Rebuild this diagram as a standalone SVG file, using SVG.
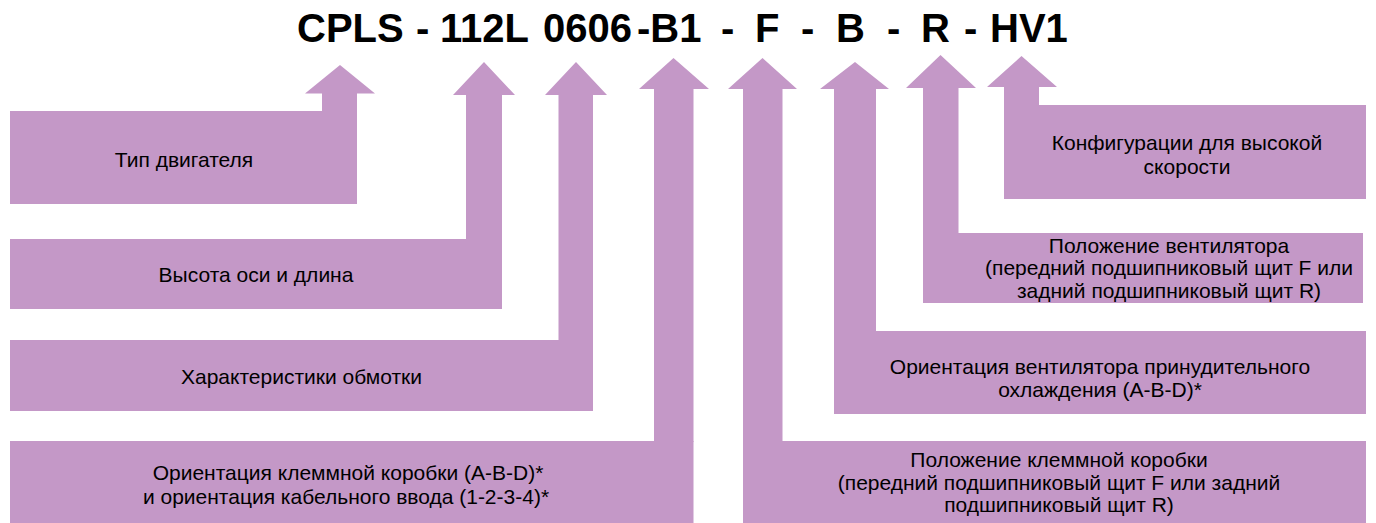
<svg xmlns="http://www.w3.org/2000/svg" width="1376" height="523" viewBox="0 0 1376 523">
<style>
.fill{fill:#C498C7;}
.title{font-family:"Liberation Sans",Arial,sans-serif;font-weight:bold;font-size:40px;fill:#000;}
.lbl{font-family:"Liberation Sans",Arial,sans-serif;font-size:21px;fill:#000;text-anchor:middle;}
</style>
<rect width="1376" height="523" fill="#fff"/>
<text class="title" y="42"><tspan x="297">CPLS</tspan><tspan x="416">-</tspan><tspan x="440">112L</tspan><tspan x="543">0606</tspan><tspan x="637">-B1</tspan><tspan x="721">-</tspan><tspan x="755">F</tspan><tspan x="801">-</tspan><tspan x="836">B</tspan><tspan x="887">-</tspan><tspan x="921">R</tspan><tspan x="964">-</tspan><tspan x="990">HV1</tspan></text>
<g id="connectors" class="fill">
<path d="M340,65 L375,93.5 L357,93.5 L357,112 L322,112 L322,93.5 L305,93.5 Z"/>
<path d="M484,62 L515,95 L502,95 L502,240 L466,240 L466,95 L453,95 Z"/>
<path d="M576,62 L607,95 L593,95 L593,341 L558.5,341 L558.5,95 L545,95 Z"/>
<path d="M673.5,58 L709,89 L693.5,89 L693.5,442 L654,442 L654,89 L639,89 Z"/>
<path d="M762.5,58 L797,89 L782.5,89 L782.5,442 L743,442 L743,89 L728,89 Z"/>
<path d="M855,62 L889,89 L876,89 L876,332 L834,332 L834,89 L820,89 Z"/>
<path d="M940.5,55 L976,88 L958.5,88 L958.5,234 L923,234 L923,88 L906,88 Z"/>
<path d="M1021.5,56 L1057,87 L1039,87 L1039,106 L1004,106 L1004,87 L987,87 Z"/>
</g>
<g id="node-type">
<rect class="fill" x="10" y="111" width="347" height="93"/>
<text class="lbl" x="184" y="167">Тип двигателя</text>
</g>
<g id="node-height">
<rect class="fill" x="10" y="239" width="492" height="70"/>
<text class="lbl" x="256" y="282">Высота оси и длина</text>
</g>
<g id="node-winding">
<rect class="fill" x="10" y="340" width="583" height="71"/>
<text class="lbl" x="301.5" y="384">Характеристики обмотки</text>
</g>
<g id="node-tb-orient">
<rect class="fill" x="10" y="441" width="683.5" height="82"/>
<text class="lbl" x="348" y="480">Ориентация клеммной коробки (A-B-D)*</text>
<text class="lbl" x="346" y="504">и ориентация кабельного ввода (1-2-3-4)*</text>
</g>
<g id="node-tb-pos">
<rect class="fill" x="743" y="441" width="623" height="82"/>
<text class="lbl" x="1059" y="467">Положение клеммной коробки</text>
<text class="lbl" x="1059" y="489.5">(передний подшипниковый щит F или задний</text>
<text class="lbl" x="1059" y="512">подшипниковый щит R)</text>
</g>
<g id="node-fan-orient">
<rect class="fill" x="834" y="331" width="532" height="83"/>
<text class="lbl" x="1100" y="373.5">Ориентация вентилятора принудительного</text>
<text class="lbl" x="1100" y="397">охлаждения (A-B-D)*</text>
</g>
<g id="node-fan-pos">
<rect class="fill" x="923" y="233" width="440" height="70"/>
<text class="lbl" x="1169" y="252.5">Положение вентилятора</text>
<text class="lbl" x="1169" y="275">(передний подшипниковый щит F или</text>
<text class="lbl" x="1169" y="297.5">задний подшипниковый щит R)</text>
</g>
<g id="node-hv">
<rect class="fill" x="1004" y="105" width="362" height="94"/>
<text class="lbl" x="1187" y="150">Конфигурации для высокой</text>
<text class="lbl" x="1187" y="173.5">скорости</text>
</g>
</svg>
